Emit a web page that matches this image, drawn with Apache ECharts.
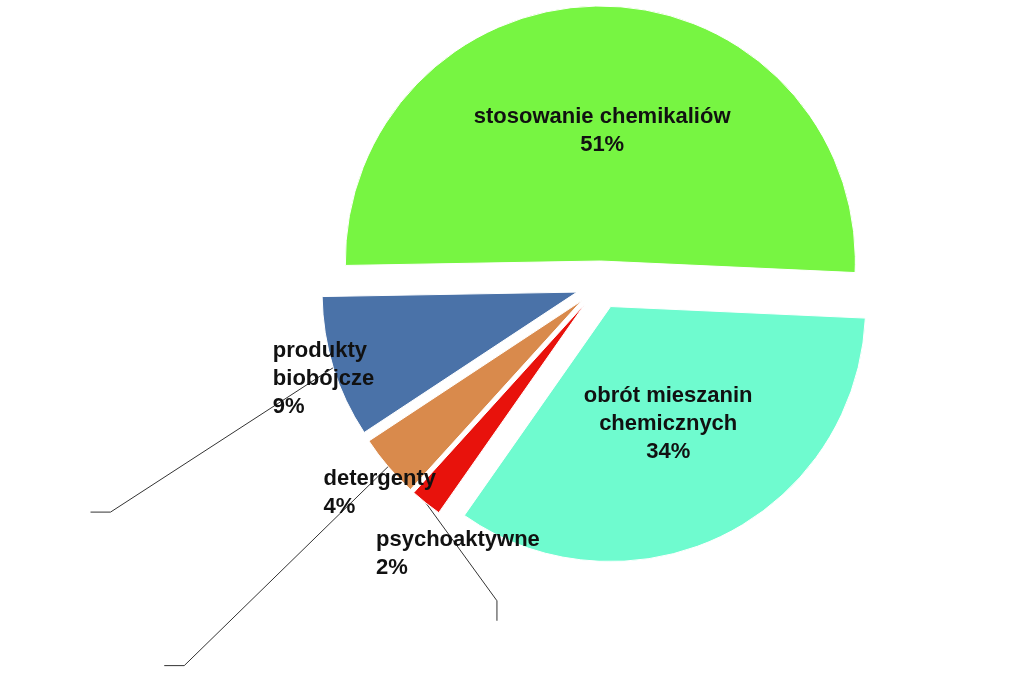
<!DOCTYPE html>
<html><head><meta charset="utf-8">
<script src="https://cdn.jsdelivr.net/npm/echarts@6/dist/echarts.min.js"></script>
<style>html,body{margin:0;background:#fff}#c{width:1024px;height:687px}</style>
</head><body><div id="c"></div>
<script>
const categories = ['stosowanie chemikaliów','obrót mieszanin\nchemicznych','psychoaktywne','detergenty','produkty\nbiobójcze'];
const values = [51, 34, 2, 4, 9];
const colors = ['#77F542','#6FFBCF','#E8120C','#D98A4C','#4A72A8'];
const inside = [true, true, false, false, false];
const labelPos = {2:[430,630], 3:[70,650], 4:[12,505]};
const chart = echarts.init(document.getElementById('c'));
chart.setOption({
  animation:false,
  series:[{
    type:'pie', center:[600,285], radius:255, startAngle:181, clockwise:true,
    selectedMode:'multiple', selectedOffset:24,
    labelLine:{length:40,length2:20,lineStyle:{color:'#333'}},
    labelLayout:p=>{const q=labelPos[p.dataIndex]; return q?{x:q[0],y:q[1],align:'left',verticalAlign:'middle'}:{};},
    label:{fontFamily:'Liberation Sans Narrow, Liberation Sans, sans-serif',fontWeight:'bold',fontSize:22,color:'#111',
      formatter:p=>p.name+'\n'+p.value+'%', lineHeight:28, align:'center'},
    itemStyle:{borderColor:'#fff',borderWidth:1},
    data: categories.map((n,i)=>({name:n,value:values[i],selected:true,
      itemStyle:{color:colors[i]},
      label: inside[i]?{position:'inside'}:{position:'outside',align:'left'}}))
  }]
});
</script></body></html>
